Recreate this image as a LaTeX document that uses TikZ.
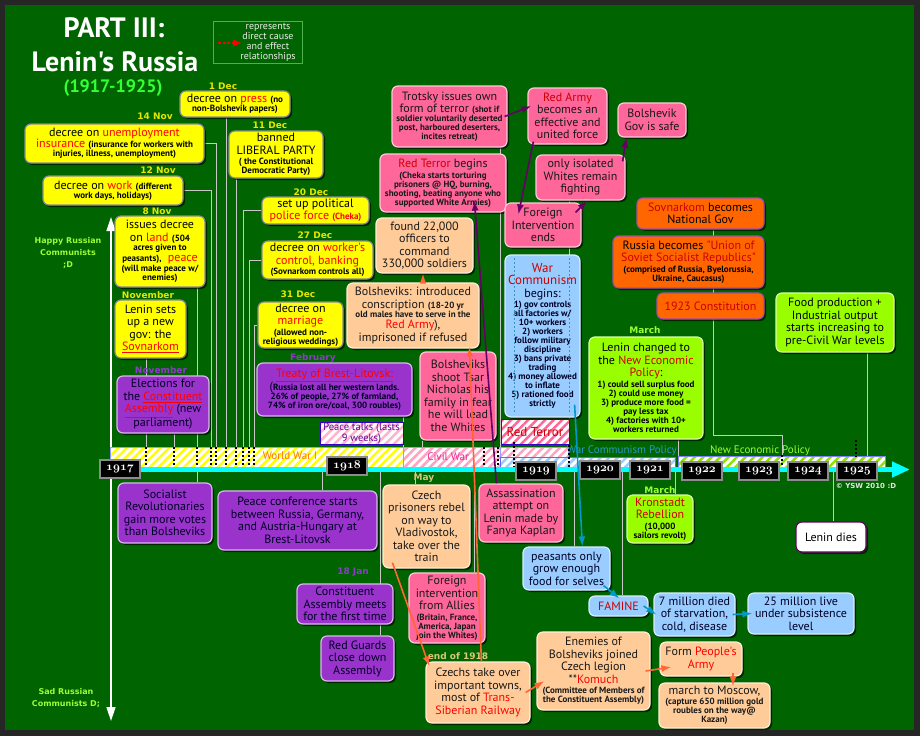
\documentclass[tikz,border=0pt]{standalone}
\usepackage{fontspec}
\usetikzlibrary{arrows.meta,shadows,patterns.meta}
\newfontfamily\pts{PT Sans}
\newfontfamily\dvs{DejaVu Sans}
\definecolor{bg}{HTML}{006400}
\definecolor{frame}{HTML}{262626}
\definecolor{yel}{HTML}{FFFF00}
\definecolor{pur}{HTML}{9933CC}
\definecolor{pnk}{HTML}{FF6699}
\definecolor{pch}{HTML}{FFCC99}
\definecolor{lbl}{HTML}{99CCFF}
\definecolor{org}{HTML}{FF6600}
\definecolor{lim}{HTML}{99FF00}
\definecolor{rd}{HTML}{FF0000}
\definecolor{drd}{HTML}{CC0000}
\definecolor{dyel}{HTML}{E6E600}
\definecolor{lpur}{HTML}{8C3CC8}
\definecolor{dlim}{HTML}{99FF33}
\definecolor{tanc}{HTML}{D9C77A}
\definecolor{arp}{HTML}{660066}
\definecolor{aro}{HTML}{FF6633}
\definecolor{arb}{HTML}{0099CC}
\definecolor{cyn}{HTML}{00FFFF}
\definecolor{conc}{HTML}{C8C8C8}
\definecolor{tgreen}{HTML}{33FF33}
\newcommand\hlr[1]{\textcolor{rd}{#1}}
\newcommand\hld[1]{\textcolor{drd}{#1}}
\newcommand\hlu[1]{\textcolor{rd}{\underline{#1}}}
\newcommand\sm[1]{{\fontsize{9}{10}\selectfont\bfseries #1}}
\newcommand\yrs[1]{{\fontsize{13}{13}\usefont{OML}{cmm}{b}{it}#1}}
\newcommand\bx[7]{\pgfmathsetmacro\bxw{#4-#2}\pgfmathsetmacro\bxh{#5-#3}\pgfmathsetmacro\bxx{(#2+#4)/2}\pgfmathsetmacro\bxy{(#3+#5)/2}\node[#6,minimum width=\bxw pt,minimum height=\bxh pt] (#1) at (\bxx,\bxy) {#7};}
\pgfdeclarelayer{back}
\pgfdeclarelayer{mid}
\pgfsetlayers{back,mid,main}
\begin{document}
\begin{tikzpicture}[x=1pt,y=-1pt,
 bxbase/.style={rounded corners=6pt, line width=1.2pt, align=center, inner sep=1.5pt,
   font=\pts\fontsize{12}{12.5}\selectfont,
   drop shadow={shadow xshift=2pt,shadow yshift=-2pt,opacity=.6,fill=black}},
 boxY/.style={bxbase, fill=yel, draw=black!45, text=black},
 boxP/.style={bxbase, fill=pur, draw=pur!35!white, text=black!85!blue},
 boxK/.style={bxbase, fill=pnk, draw=pnk!35!white, text=black!90},
 boxC/.style={bxbase, fill=pch, draw=pch!35!white, text=black!90},
 boxB/.style={bxbase, fill=lbl, draw=lbl!35!white, text=black!85!blue},
 boxO/.style={bxbase, fill=org, draw=violet!70, text=black},
 boxG/.style={bxbase, fill=lim, draw=lim!35!white, text=black},
 boxW/.style={bxbase, fill=white, draw=violet!80!black, text=black},
 dlab/.style={font=\dvs\bfseries\fontsize{9}{10}\selectfont, inner sep=0pt},
 cline/.style={draw=conc, line width=0.7pt},
 tmark/.style={draw=black, line width=1.6pt, dash pattern=on 2pt off 2pt},
 parr/.style={draw=arp, line width=1.6pt, -{Latex[length=10pt,width=7pt]}},
 oarr/.style={draw=aro, line width=1.6pt, -{Latex[length=10pt,width=7pt]}},
 barr/.style={draw=arb, line width=1.6pt, -{Latex[length=10pt,width=7pt]}},
 yrbox/.style={fill=black, draw=black!45, line width=1.5pt, text=white, minimum width=40pt, minimum height=18pt, inner sep=0pt},
 band/.style={line width=0.5pt}
]
\useasboundingbox (0,0) rectangle (920,736);
\begin{pgfonlayer}{back}
\fill[frame] (0,0) rectangle (920,736);
\fill[bg] (5,5) rectangle (914,730);
\end{pgfonlayer}

% title
\node[font=\pts\bfseries\fontsize{28}{30}\selectfont, text=white] (ttl1) at (114,28) {PART III:};
\node[font=\pts\bfseries\fontsize{28}{30}\selectfont, text=white] (ttl2) at (115,62) {Lenin's Russia};
\node[font=\pts\bfseries\fontsize{18}{18}\selectfont, text=tgreen] (ttl3) at (113,88) {(1917-1925)};

% legend
\node[draw=gray!60!green, line width=0.6pt, minimum width=89pt, minimum height=42pt, inner sep=0pt] (legend) at (257.5,42) {};
\node[font=\pts\fontsize{10}{10}\selectfont, text=white!85!gray, align=center] (legtxt) at (268,42) {represents\\direct cause\\and effect\\relationships};
\coordinate (lg0) at (218,43);
\coordinate (lg1) at (241,43);
\draw[rd, line width=1.2pt, dash pattern=on 3pt off 1.5pt, -{Triangle[length=8pt,width=7pt]}] (lg0) -- (lg1);

% side axis
\coordinate (happy) at (111,217);
\coordinate (sad) at (111,721);
\draw[white, line width=1.5pt, {Triangle[length=14pt,width=9pt]}-{Triangle[length=14pt,width=9pt]}] (happy) -- (sad);
\node[font=\dvs\bfseries\fontsize{8}{12}\selectfont, text=dlim, align=center] (hl) at (68,253) {Happy Russian\\Communists\\;D};
\node[font=\dvs\bfseries\fontsize{8}{12}\selectfont, text=dlim, align=center] (sl) at (66,698) {Sad Russian\\Communists D;};

% timeline bands
\path[band, preaction={fill=white}, pattern={Lines[angle=45,distance=6pt,line width=2.5pt]}, pattern color=yel, draw=blue!40] (110,447) rectangle (403,468);
\path[band, preaction={fill=white}, pattern={Lines[angle=45,distance=6pt,line width=2.5pt]}, pattern color=pnk!60!white, draw=blue!40] (403,447) rectangle (500,468);
\path[band, preaction={fill=white}, pattern={Lines[angle=45,distance=6pt,line width=2.5pt]}, pattern color=pnk!60!white, draw=blue!40] (500,447) rectangle (568,457);
\path[band, preaction={fill=white}, pattern={Lines[angle=45,distance=6pt,line width=2.5pt]}, pattern color=lbl, draw=blue!60] (500,457) rectangle (675,468);
\path[band, preaction={fill=white}, pattern={Lines[angle=45,distance=6pt,line width=2.5pt]}, pattern color=lim!90!black, draw=blue!50] (678,456) rectangle (885,467);
\node[font=\pts\fontsize{11}{12}\selectfont, text=orange!90!red] (ww1) at (290,456) {World War I};
\node[font=\pts\fontsize{11}{12}\selectfont, text=magenta!80!pink] (cw) at (448,457) {Civil War};
\node[font=\pts\fontsize{11}{12}\selectfont, text=cyan!60!teal] (wcp) at (622,451) {War Communism Policy};
\node[font=\pts\fontsize{11}{12}\selectfont, text=dlim] (nepl) at (760,451) {New Economic Policy};

% timeline boxes
\node[preaction={fill=white}, pattern={Lines[angle=45,distance=6pt,line width=2.5pt]}, pattern color=pnk!50!white, draw=blue!60!violet, line width=0.8pt, minimum width=83pt, minimum height=22pt, inner sep=0pt, align=center, font=\pts\fontsize{10.5}{11}\selectfont, text=violet!80!blue] (ptalks) at (361.5,433) {Peace talks (lasts\\9 weeks)};
\node[preaction={fill=white}, pattern={Lines[angle=45,distance=6pt,line width=2.5pt]}, pattern color=pnk, draw=blue!60!violet, line width=0.8pt, minimum width=68pt, minimum height=25pt, inner sep=0pt, font=\pts\fontsize{13}{14}\selectfont, text=drd] (rterr) at (535,431.5) {Red Terror};

% ticks
\foreach \tx in {146,174,197,211,216,226,236,243,249,254,484,498}
  \draw[tmark] (\tx,447) -- (\tx,468);
\draw[tmark] (514,442) -- (514,468);
\draw[tmark] (569,445) -- (569,468);
\draw[tmark] (782,455) -- (782,470);
\draw[tmark] (856,440) -- (856,457);

% cyan arrow
\coordinate (tlA) at (110,469.5);
\coordinate (tlB) at (910,469.5);
\draw[cyn, line width=5pt, -{Triangle[length=18pt,width=15pt]}] (tlA) -- (tlB);

% years
\node[yrbox] (y1917) at (120,469) {\yrs{1917}};
\node[yrbox] (y1918) at (347,466) {\yrs{1918}};
\node[yrbox] (y1919) at (536,471) {\yrs{1919}};
\node[yrbox] (y1920) at (600,470) {\yrs{1920}};
\node[yrbox] (y1921) at (650,470) {\yrs{1921}};
\node[yrbox] (y1922) at (702,471) {\yrs{1922}};
\node[yrbox] (y1923) at (759,471) {\yrs{1923}};
\node[yrbox] (y1924) at (808,471) {\yrs{1924}};
\node[yrbox] (y1925) at (857,471) {\yrs{1925}};
\node[font=\dvs\bfseries\fontsize{7}{8}\selectfont, text=white!80!gray] (copy) at (866,486) {\textcopyright\ YSW 2010 :D};

% date labels
\node[dlab, text=dyel] (d1) at (223,86) {1 Dec};
\node[dlab, text=dyel] (d2) at (155,116) {14 Nov};
\node[dlab, text=dyel] (d3) at (158,170) {12 Nov};
\node[dlab, text=dyel] (d4) at (157,211) {8 Nov};
\node[dlab, text=dyel] (d5) at (148,295) {November};
\node[dlab, text=lpur] (d6) at (161,370) {November};
\node[dlab, text=dyel] (d7) at (270,125) {11 Dec};
\node[dlab, text=dyel] (d8) at (311,192) {20 Dec};
\node[dlab, text=dyel] (d9) at (315,235) {27 Dec};
\node[dlab, text=dyel] (d10) at (298,294) {31 Dec};
\node[dlab, text=lpur] (d11) at (313,358) {February};
\node[dlab, text=lpur] (d12) at (353,572) {18 Jan};
\node[dlab, text=tanc] (d13) at (424,478) {May};
\node[dlab, text=tanc] (d14) at (458,656) {end of 1918};
\node[dlab, text=dlim] (d15) at (660,490) {March};
\node[dlab, text=dlim] (d16) at (645,330) {March};

% yellow boxes
\bx{press}{180}{91}{290}{117}{boxY}{decree on \hlr{press} \sm{(no}\\[-3.5pt]\sm{non-Bolshevik papers)}}
\bx{unemp}{25}{124}{204}{163}{boxY}{decree on \hlr{unemployment}\\[-1pt]\hlr{insurance} \sm{(insurance for workers with}\\[-3.5pt]\sm{injuries, illness, unemployment)}}
\bx{work}{43}{176}{183}{205}{boxY}{decree on \hlr{work} \sm{(different}\\[-3.5pt]\sm{work days, holidays)}}
\bx{land}{115}{216}{205}{287}{boxY}{issues decree\\on \hlr{land} \sm{(504}\\[-3.5pt]\sm{acres given to}\\[-1.5pt]\sm{peasants),}\ \ \hlr{peace}\\[-2pt]\sm{(will make peace w/}\\[-3.5pt]\sm{enemies)}}
\bx{sovn}{115}{300}{186}{358}{boxY}{Lenin sets\\up a new\\gov: the\\\hlu{Sovnarkom}}
\bx{liberal}{229}{131}{323}{178}{boxY}{banned\\LIBERAL PARTY\\[-2pt]\sm{( the Constitutional}\\[-3.5pt]\sm{Democratic Party)}}
\bx{police}{262}{197}{369}{224}{boxY}{set up political\\\hlr{police force} \sm{\hlr{(Cheka)}}}
\bx{wcontrol}{262}{241}{373}{279}{boxY}{decree on \hlr{worker's}\\\hlr{control, banking}\\[-2pt]\sm{(Sovnarkom controls all)}}
\bx{marriage}{258}{302}{343}{348}{boxY}{decree on\\\hlr{marriage}\\[-2pt]\sm{(allowed non-}\\[-3.5pt]\sm{religious weddings)}}

% purple boxes
\bx{elect}{117}{376}{209}{433}{boxP}{Elections for\\the \hlu{Constituent}\\\hlu{Assembly} (new\\parliament)}
\bx{brest}{257}{363}{412}{416}{boxP}{\hlu{Treaty of Brest-Litovsk:}\\[-1pt]{\large(}\sm{Russia lost all her western lands.}\\[-3.5pt]\sm{26\% of people, 27\% of farmland,}\\[-3.5pt]\sm{74\% of iron ore/coal, 300 roubles)}}
\bx{srev}{118}{483}{212}{543}{boxP}{Socialist\\Revolutionaries\\gain more votes\\than Bolsheviks}
\bx{peaceconf}{218}{491}{377}{550}{boxP}{Peace conference starts\\between Russia, Germany,\\and Austria-Hungary at\\Brest-Litovsk}
\bx{cam}{297}{584}{393}{624}{boxP}{Constituent\\Assembly meets\\for the first time}
\bx{redguards}{321}{636}{394}{681}{boxP}{Red Guards\\close down\\Assembly}

% peach / pink bottom
\bx{czech}{383}{485}{470}{568}{boxC}{Czech\\prisoners rebel\\on way to\\Vladivostok,\\take over the\\train}
\bx{forint}{409}{573}{485}{643}{boxK}{Foreign\\intervention\\from Allies\\[-2pt]\sm{(Britain, France,}\\[-3.5pt]\sm{America, Japan}\\[-3.5pt]\sm{join the Whites)}}
\bx{czechtake}{426}{662}{530}{723}{boxC}{Czechs take over\\important towns,\\most of \hlr{Trans-}\\\hlr{Siberian Railway}}
\bx{assas}{479}{484}{563}{542}{boxK}{Assassination\\attempt on\\Lenin made by\\Fanya Kaplan}
\bx{komuch}{537}{632}{650}{710}{boxC}{Enemies of\\Bolsheviks joined\\Czech legion\\**\hlr{Komuch}\\[-2pt]\sm{(Committee of Members of}\\[-3.5pt]\sm{the Constituent Assembly)}}
\bx{peoplearmy}{660}{642}{742}{676}{boxC}{Form \hlr{People's}\\\hlr{Army}}
\bx{moscow}{659}{683}{770}{728}{boxC}{march to Moscow,\\[-2pt]\sm{(capture 650 million gold}\\[-3.5pt]\sm{roubles on the way@}\\[-3.5pt]\sm{Kazan)}}

% blue bottom
\bx{peasants}{523}{547}{610}{590}{boxB}{peasants only\\grow enough\\food for selves}
\bx{famine}{589}{596}{648}{616}{boxB}{\hld{FAMINE}}
\bx{seven}{654}{593}{735}{636}{boxB}{7 million died\\of starvation,\\cold, disease}
\bx{twentyfive}{748}{593}{854}{634}{boxB}{25 million live\\under subsistence\\level}

% lime / white
\bx{kron}{627}{495}{693}{543}{boxG}{\hld{Kronstadt}\\\hld{Rebellion}\\[-2pt]\sm{(10,000}\\[-3.5pt]\sm{sailors revolt)}}
\bx{lenindies}{796}{522}{866}{552}{boxW}{Lenin dies}
\bx{nep}{589}{337}{703}{439}{boxG}{Lenin changed to\\the \hld{New Economic}\\\hld{Policy}:\\[-2pt]\sm{1) could sell surplus food}\\[-3.5pt]\sm{2) could use money}\\[-3.5pt]\sm{3) produce more food =}\\[-3.5pt]\sm{pay less tax}\\[-3.5pt]\sm{4) factories with 10+}\\[-3.5pt]\sm{workers returned}}
\bx{food}{776}{293}{894}{352}{boxG}{Food production +\\Industrial output\\starts increasing to\\pre-Civil War levels}

% orange
\bx{constit}{657}{293}{764}{319}{boxO}{\hld{1923 Constitution}}
\bx{ussr}{613}{236}{764}{288}{boxO}{Russia becomes \hld{"Union of}\\\hld{Soviet Socialist Republics"}\\[-2pt]\sm{(comprised of Russia, Byelorussia,}\\[-3.5pt]\sm{Ukraine, Caucasus)}}
\bx{sovnat}{637}{198}{764}{229}{boxO}{\hld{Sovnarkom} becomes\\National Gov}

% top middle
\bx{trotsky}{392}{86}{507}{147}{boxK}{Trotsky issues own\\form of terror \sm{(shot if}\\[-3.5pt]\sm{soldier voluntarily deserted}\\[-3.5pt]\sm{post, harboured deserters,}\\[-3.5pt]\sm{incites retreat)}}
\bx{redterrorb}{380}{154}{506}{212}{boxK}{\hld{Red Terror} begins\\[-2pt]\sm{(Cheka starts torturing}\\[-3.5pt]\sm{prisoners @ HQ, burning,}\\[-3.5pt]\sm{shooting, beating anyone who}\\[-3.5pt]\sm{supported White Armies)}}
\bx{officers}{376}{218}{473}{273}{boxC}{found 22,000\\officers to\\command\\330,000 soldiers}
\bx{conscr}{347}{283}{479}{348}{boxC}{Bolsheviks: introduced\\conscription \sm{(18-20 yr}\\[-3.5pt]\sm{old males have to serve in the}\\[-1pt]\hlr{Red Army}),\\imprisoned if refused}
\bx{tsar}{420}{352}{496}{440}{boxK}{Bolsheviks\\shoot Tsar\\Nicholas his\\family in fear\\he will lead\\the Whites}
\bx{redarmy}{528}{88}{607}{144}{boxK}{\hld{Red Army}\\becomes an\\effective and\\united force}
\bx{govsafe}{618}{103}{686}{137}{boxK}{Bolshevik\\Gov is safe}
\bx{whites}{536}{155}{625}{200}{boxK}{only isolated\\Whites remain\\fighting}
\bx{forend}{505}{203}{581}{247}{boxK}{Foreign\\Intervention\\ends}
\bx{warcom}{505}{255}{580}{417}{boxB}{{\fontsize{13}{13}\selectfont\hld{War}}\\{\fontsize{13}{13}\selectfont\hld{Communism}}\\begins:\\[-2pt]\sm{1) gov controls}\\[-3.5pt]\sm{all factories w/}\\[-3.5pt]\sm{10+ workers}\\[-3.5pt]\sm{2) workers}\\[-3.5pt]\sm{follow military}\\[-3.5pt]\sm{discipline}\\[-3.5pt]\sm{3) bans private}\\[-3.5pt]\sm{trading}\\[-3.5pt]\sm{4) money allowed}\\[-3.5pt]\sm{to inflate}\\[-3.5pt]\sm{5) rationed food}\\[-3.5pt]\sm{strictly}}
\draw[cyan!50!teal, line width=0.8pt, dash pattern=on 2pt off 2pt] (514,258) -- (514,414);
\draw[cyan!50!teal, line width=0.8pt, dash pattern=on 2pt off 2pt] (569,258) -- (569,414);

% connector coordinates
\foreach \tx in {146,174,197,211,216,226,236,243,249,254,403,422,500,569}
  \coordinate (t\tx) at (\tx,447);
\coordinate (t678) at (678,456);
\coordinate (t782) at (782,456);
\coordinate (t867) at (867,456);
\coordinate (c713) at (713,435);
\foreach \tx in {197,322,380,415,474,574,622,675,833}
  \coordinate (b\tx) at (\tx,472);

\begin{pgfonlayer}{mid}
\draw[cline] (sovn.south -| t146) -- (t146);
\draw[cline] (elect.south -| t174) -- (t174);
\draw[cline] (land.south -| t197) -- (t197);
\draw[cline] (work.east) -- (work.east -| t211) -- (t211);
\draw[cline] (unemp.east) -- (unemp.east -| t216) -- (t216);
\draw[cline] (press.south -| t226) -- (t226);
\draw[cline] (liberal.south -| t236) -- (t236);
\draw[cline] (police.west) -- (police.west -| t243) -- (t243);
\draw[cline] (wcontrol.west) -- (wcontrol.west -| t249) -- (t249);
\draw[cline] (marriage.west) -- (marriage.west -| t254) -- (t254);
\draw[cline] (brest.south -| t403) -- (t403);
\draw[cline] (tsar.south -| t422) -- (t422);
\draw[cline] (trotsky.south -| t500) -- (t500);
\draw[cline] (whites.south -| t569) -- (t569);
\draw[cline] (nep.south -| t678) -- (t678);
\draw[cline] (sovnat.south -| c713) -- (c713) -| (t782);
\draw[cline] (food.south -| t867) -- (t867);
\draw[cline] (srev.north -| b197) -- (b197);
\draw[cline] (peaceconf.north -| b322) -- (b322);
\draw[cline] (redguards.north -| b380) -- (b380);
\draw[cline] (czech.north -| b415) -- (b415);
\draw[cline] (forint.north -| b474) -- (b474);
\draw[cline] (peasants.north -| b574) -- (b574);
\draw[cline] (famine.north -| b622) -- (b622);
\draw[cline] (kron.north -| b675) -- (b675);
\draw[cline] (lenindies.north -| b833) -- (b833);
\end{pgfonlayer}

% cause-effect arrows
\draw[parr] ([xshift=-3pt]trotsky.east) -- ([xshift=4pt,yshift=10pt]redarmy.west);
\draw[parr] ([xshift=6pt,yshift=3pt]redarmy.south west) -- ([xshift=14pt,yshift=-12pt]forend.north west);
\draw[parr] ([xshift=-6pt,yshift=-10pt]forend.north east) -- ([xshift=52pt]whites.south west);
\draw[parr] ([xshift=-3pt,yshift=-7pt]whites.north east) -- ([xshift=9pt]govsafe.south west);
\draw[parr] ([xshift=18pt]assas.north west) -- ([xshift=95pt,yshift=12pt]redterrorb.south west);
\coordinate (o423) at (423,0);
\coordinate (o733) at (733,0);
\draw[oarr] (conscr.north -| o423) -- (officers.south -| o423);
\draw[oarr] ([xshift=56pt]czechtake.north west) -- ([xshift=123pt,yshift=2pt]conscr.south west);
\draw[oarr] ([xshift=10pt,yshift=6pt]czech.south west) -- ([xshift=4pt,yshift=-5pt]czechtake.north west);
\draw[oarr] ([xshift=-5pt]czechtake.east) -- ([xshift=8pt,yshift=-10pt]komuch.west);
\draw[oarr] ([xshift=-5pt]komuch.east) -- ([xshift=12pt,yshift=-8pt]peoplearmy.west);
\draw[oarr] ([yshift=4pt]peoplearmy.south -| o733) -- ([yshift=-4pt]moscow.north -| o733);
\draw[barr] ([xshift=-6pt,yshift=13pt]warcom.south east) -- ([xshift=60pt]peasants.north west);
\draw[barr] ([xshift=-7pt,yshift=5pt]peasants.south east) -- ([xshift=31pt,yshift=-3pt]famine.north west);
\draw[barr] ([xshift=-5pt]famine.east) -- ([xshift=3pt]seven.west);
\draw[barr] ([xshift=-3pt]seven.east) -- ([xshift=5pt]twentyfive.west);
\end{tikzpicture}
\end{document}
